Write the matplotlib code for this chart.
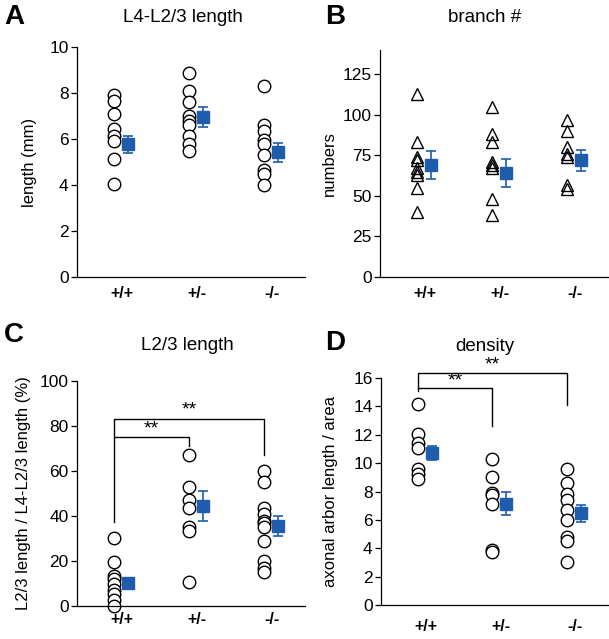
import matplotlib
matplotlib.use("Agg")
import matplotlib.pyplot as plt

plt.rcParams["font.family"] = ["Liberation Sans", "DejaVu Sans"]

groups = ["+/+", "+/-", "-/-"]
blue = "#1f5cab"

# A: L4-L2/3 length (mm)
len_wt = [7.9, 7.65, 7.1, 6.45, 6.15, 5.9, 5.15, 4.05]
len_het = [8.85, 8.1, 7.6, 7.0, 6.8, 6.6, 6.15, 5.8, 5.5]
len_ko = [8.3, 6.6, 6.35, 5.95, 5.8, 5.3, 4.65, 4.5, 4.0]
len_mean = [5.77, 6.96, 5.42]
len_sem = [0.36, 0.45, 0.42]

# B: branch number
br_wt = [113, 83, 74, 72, 67, 65, 63, 55, 40]
br_het = [105, 88, 83, 71, 69, 67, 48, 38]
br_ko = [97, 90, 80, 76, 74, 57, 54]
br_mean = [69, 64, 72]
br_sem = [8.5, 8.5, 6.5]

# C: L2/3 length / L4-L2/3 length (%)
pct_wt = [30.3, 19.7, 13.3, 11.8, 9.6, 7.0, 5.2, 2.5, 0.2]
pct_het = [67.2, 52.7, 47.0, 43.6, 35.0, 33.5, 10.8]
pct_ko = [60.0, 55.0, 43.6, 41.0, 38.0, 36.7, 35.2, 29.0, 20.0, 17.0, 15.0]
pct_mean = [10.4, 44.5, 35.5]
pct_sem = [1.5, 6.5, 4.6]

# D: axonal arbor density
den_wt = [14.2, 12.05, 11.45, 11.05, 9.6, 9.2, 8.9]
den_het = [10.3, 9.0, 7.9, 7.75, 7.1, 3.9, 3.75]
den_ko = [9.6, 8.6, 7.8, 7.4, 6.7, 6.0, 4.8, 4.5, 3.0]
den_mean = [10.7, 7.15, 6.45]
den_sem = [0.5, 0.8, 0.6]

OFF_PT = -0.107
OFF_MEAN = 0.08


def draw_panel(ax, series, mean, sem, marker, ylim, yticks, ylabel, label_x, xpad):
    for i, vals in enumerate(series):
        x = [i + 1 + OFF_PT] * len(vals)
        if marker == "^":
            ax.plot(x, vals, ls="none", marker="^", ms=9, mfc="none",
                    mec="black", mew=1.0, clip_on=False)
        else:
            ax.plot(x, vals, ls="none", marker="o", ms=9, mfc="white",
                    mec="black", mew=1.0, clip_on=False)
    mx = [i + 1 + OFF_MEAN for i in range(len(mean))]
    ax.errorbar(mx, mean, yerr=sem, fmt="s", color=blue, ms=8.5,
                ecolor=blue, elinewidth=1.2, capsize=3.5, capthick=1.2,
                clip_on=False, zorder=5)
    ax.set_xlim(0.4, 3.44)
    ax.set_ylim(*ylim)
    ax.set_yticks(yticks)
    ax.set_xticks([1, 2, 3])
    ax.set_xticklabels(groups, fontweight="bold", fontsize=11.5)
    ax.tick_params(axis="x", length=0, pad=xpad)
    ax.tick_params(axis="y", length=4, width=0.9, labelsize=12.5, pad=2)
    for s in ["top", "right"]:
        ax.spines[s].set_visible(False)
    for s in ["left", "bottom"]:
        ax.spines[s].set_linewidth(0.9)
    ax.set_ylabel(ylabel, fontsize=12)
    ax.yaxis.set_label_coords(label_x, 0.5)


def bracket(ax, x0, x1, y_left, y_top, y_right, star_y):
    ax.plot([x0, x0, x1, x1], [y_left, y_top, y_top, y_right], color="black",
            lw=1.0, clip_on=False)
    ax.text((x0 + x1) / 2, star_y, "**", ha="center", va="center",
            fontsize=14, clip_on=False)


fig = plt.figure(figsize=(6.09, 6.39), dpi=100)
W, H = 609, 639


def add_ax(l, r, b, t):
    return fig.add_axes([l / W, 1 - b / H, (r - l) / W, (b - t) / H])


axA = add_ax(77, 305, 277, 47)
axB = add_ax(380, 608, 277, 50)
axC = add_ax(77, 305, 606, 381)
axD = add_ax(381, 608, 605, 378)

draw_panel(axA, [len_wt, len_het, len_ko], len_mean, len_sem, "o",
           (0, 10), [0, 2, 4, 6, 8, 10], "length (mm)", -0.175, 6.5)
draw_panel(axB, [br_wt, br_het, br_ko], br_mean, br_sem, "^",
           (0, 140), [0, 25, 50, 75, 100, 125], "numbers", -0.19, 6.5)
draw_panel(axC, [pct_wt, pct_het, pct_ko], pct_mean, pct_sem, "o",
           (0, 100), [0, 20, 40, 60, 80, 100],
           "L2/3 length / L4-L2/3 length (%)", -0.2, 4.5)
draw_panel(axD, [den_wt, den_het, den_ko], den_mean, den_sem, "o",
           (0, 16), [0, 2, 4, 6, 8, 10, 12, 14, 16],
           "axonal arbor length / area", -0.19, 10)

p1, p2, p3 = 1 + OFF_PT, 2 + OFF_PT, 3 + OFF_PT
bracket(axC, p1, p2, 37.5, 75, 71.3, 78.5)
bracket(axC, p1, p3, 75, 83, 67, 87)
bracket(axD, p1, p2, 15.1, 15.3, 12.6, 15.8)
bracket(axD, p1, p3, 15.3, 16.35, 14.1, 16.9)

titles = [("L4-L2/3 length", 183, 17), ("branch #", 485, 17),
          ("L2/3 length", 187, 345), ("density", 485, 347)]
for txt, x, y in titles:
    fig.text(x / W, 1 - y / H, txt, ha="center", va="center", fontsize=13.5)

letters = [("A", 4, 17), ("B", 325, 17), ("C", 4, 335), ("D", 325, 343)]
for txt, x, y in letters:
    fig.text(x / W, 1 - y / H, txt, ha="left", va="center", fontsize=20,
             fontweight="bold")

fig.savefig("out.png", dpi=100)
